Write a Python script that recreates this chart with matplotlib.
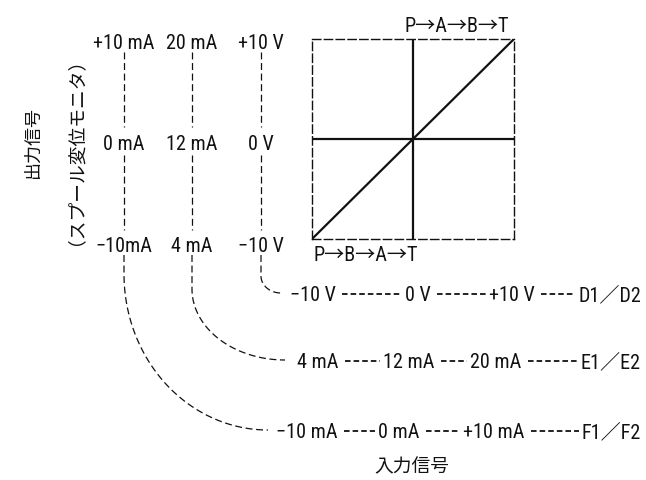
import numpy as np
import matplotlib
matplotlib.use('Agg')
import matplotlib.pyplot as plt

plt.rcParams['lines.scale_dashes'] = False
latin = ['Roboto Condensed', 'Noto Sans CJK JP', 'DejaVu Sans']
cjk = ['Noto Sans CJK JP', 'DejaVu Sans']
ink = '#111111'

# output signal scales (top, middle, bottom of each column)
out_cols = [['+10 mA', '0 mA', '−10mA'],
            ['20 mA', '12 mA', '4 mA'],
            ['+10 V', '0 V', '−10 V']]
# input signal rows: low, mid, high, code
in_rows = [['−10 V', '0 V', '+10 V', 'D1／D2'],
           ['4 mA', '12 mA', '20 mA', 'E1／E2'],
           ['−10 mA', '0 mA', '+10 mA', 'F1／F2']]
# characteristic: input -> spool position (normalised)
sig_in = [-1, 0, 1]
sig_out = [-1, 0, 1]
label_top = 'P→A→B→T'
label_bot = 'P→B→A→T'
y_title = '出力信号'
y_sub = '（スプール変位モニタ）'
x_title = '入力信号'

fig = plt.figure(figsize=(6.46, 4.81), dpi=100)
ax = fig.add_axes([0, 0, 1, 1])
ax.set_xlim(0, 646)
ax.set_ylim(481, 0)
ax.axis('off')

fs = 14.5
cap = 7  # half cap height in px, to centre digits on a line

vdash = (0, (5, 2.6))
col_x = [124, 192, 261]
lvl_y = [42, 143, 245]
for cx, labs in zip(col_x, out_cols):
    for ly, lab in zip(lvl_y, labs):
        ax.text(cx, ly + cap, lab, ha='center', va='baseline', fontsize=fs, family=latin, color=ink)
    ax.plot([cx, cx], [53, 128], color=ink, lw=0.9, linestyle=vdash)
    ax.plot([cx, cx], [156, 231], color=ink, lw=0.9, linestyle=vdash)

# connectors from bottom of each column to the input rows
row_y = [294, 361, 431]
curve_end = [281, 285, 268]
curve_top = [277, 290, 275]
for cx, ry, ex, yc in zip(col_x[::-1], row_y, curve_end, curve_top):
    t = np.linspace(0, np.pi / 2, 80)
    xs = np.r_[cx, ex - (ex - cx) * np.cos(t)]
    ys = np.r_[256, yc + (ry - yc) * np.sin(t)]
    ax.plot(xs, ys, color=ink, lw=0.9, linestyle=vdash)

# input scale rows: labels joined by dashes
row_cx = [[313, 418, 512], [318, 409, 496], [307, 399, 494]]
fig.canvas.draw()
rend = fig.canvas.get_renderer()
for ry, labs, cxs in zip(row_y, in_rows, row_cx):
    objs = [ax.text(c, ry + cap, s, ha='center', va='baseline', fontsize=fs, family=latin, color=ink)
            for c, s in zip(cxs, labs[:3])]
    objs.append(ax.text(641, ry + cap, labs[3], ha='right', va='baseline', fontsize=fs, family=latin, color=ink))
    ext = [o.get_window_extent(rend) for o in objs]
    for a, b in zip(ext[:-1], ext[1:]):
        x0 = a.x1 + 6
        x1 = b.x0 - 3
        ax.plot([x0, x1], [ry + 1, ry + 1], color=ink, lw=1.3, linestyle=(0, (4, 2.2)))

ax.text(33, 142, y_title, rotation=90, ha='center', va='center', fontsize=13, family=cjk, color=ink)
ax.text(66, 142, y_sub, rotation=90, ha='center', va='center', fontsize=13.5, family=cjk, color=ink)
ax.text(412, 467, x_title, ha='center', va='center', fontsize=13.5, family=cjk, color=ink)
ax.text(457, 32, label_top, ha='center', va='baseline', fontsize=fs, family=latin, color=ink)
ax.text(366, 261, label_bot, ha='center', va='baseline', fontsize=fs, family=latin, color=ink)

# characteristic box
bx = fig.add_axes([312 / 646, 1 - 240 / 481, 202 / 646, 200 / 481])
bx.set_xlim(-1, 1)
bx.set_ylim(-1, 1)
bx.set_xticks([])
bx.set_yticks([])
bx.patch.set_alpha(0)
for sp in bx.spines.values():
    sp.set_linestyle((0, (6, 2.5)))
    sp.set_linewidth(1.0)
    sp.set_color(ink)
bx.plot(sig_in, sig_out, color=ink, lw=1.6, solid_capstyle='butt')
bx.axhline(0, color=ink, lw=1.6)
bx.axvline(0, color=ink, lw=1.6)

fig.savefig('out.png', dpi=100)
